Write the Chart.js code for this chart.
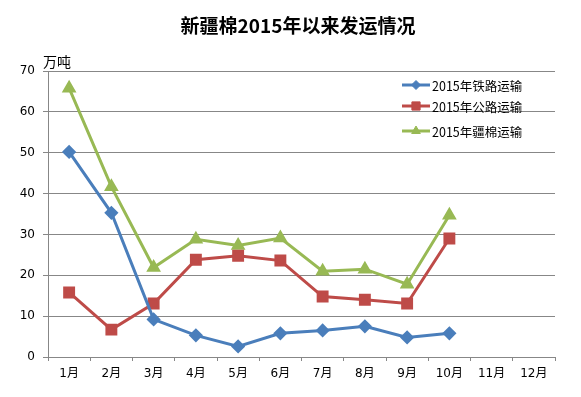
<!DOCTYPE html>
<html>
<head>
<meta charset="utf-8">
<script src="https://cdn.jsdelivr.net/npm/chart.js@4/dist/chart.umd.min.js"></script>
<style>
html,body{margin:0;padding:0;background:#fff;}
canvas{display:block;}
</style>
</head>
<body>
<canvas id="c" width="581" height="397"></canvas>
<script>
const chartTitle = '新疆棉2015年以来发运情况';
const yUnit = '万吨';
const months = ['1月','2月','3月','4月','5月','6月','7月','8月','9月','10月','11月','12月'];
const seriesNames = ['2015年铁路运输','2015年公路运输','2015年疆棉运输'];
const railway = [50.2, 35.3, 9.2, 5.3, 2.6, 5.8, 6.5, 7.5, 4.8, 5.8];
const road    = [15.8, 6.7, 13.1, 23.8, 24.8, 23.6, 14.8, 14.0, 13.1, 29.0];
const cotton  = [65.8, 41.7, 21.9, 28.8, 27.3, 29.1, 21.0, 21.5, 17.8, 34.7];
const yMin = 0, yMax = 70, yStep = 10;

const BLUE = '#4A7EBB', RED = '#BE4B48', GREEN = '#98B954', GRID = '#878787';
const cjk = "'Noto Sans CJK SC', 'DejaVu Sans', sans-serif";
const tickFont = "'DejaVu Sans', 'Noto Sans CJK SC', sans-serif";

const drawPt = (ctx, opts, x, y) => {
  if (Chart.helpers && Chart.helpers.drawPoint) Chart.helpers.drawPoint(ctx, opts, x, y);
};

const decorPlugin = {
  id: 'decor',
  afterDraw(chart) {
    const ctx = chart.ctx;
    const ca = chart.chartArea;
    ctx.save();
    ctx.fillStyle = '#000';
    ctx.font = "bold 19px " + cjk;
    ctx.textAlign = 'center';
    ctx.textBaseline = 'middle';
    ctx.fillText(chartTitle, 298, 26);
    ctx.font = "14px " + cjk;
    ctx.textAlign = 'left';
    ctx.fillText(yUnit, ca.left - 5, ca.top - 9);
    const rows = [85, 106, 131];
    const lx0 = 402, lx1 = 430;
    chart.data.datasets.forEach((ds, i) => {
      const y = rows[i];
      ctx.strokeStyle = ds.borderColor;
      ctx.lineWidth = ds.borderWidth;
      ctx.beginPath();
      ctx.moveTo(lx0, y);
      ctx.lineTo(lx1, y);
      ctx.stroke();
      ctx.fillStyle = ds.pointBackgroundColor;
      ctx.strokeStyle = ds.pointBorderColor;
      ctx.lineWidth = 1;
      drawPt(ctx, {pointStyle: ds.pointStyle, radius: ds.pointRadius - 0.5, borderWidth: 1, rotation: 0}, (lx0 + lx1) / 2, y);
      ctx.fillStyle = '#000';
      ctx.font = "12.5px " + cjk;
      ctx.textAlign = 'left';
      ctx.textBaseline = 'middle';
      ctx.fillText(ds.label, lx1 + 2, y + 1);
    });
    ctx.restore();
  }
};

new Chart(document.getElementById('c'), {
  type: 'line',
  data: {
    labels: months,
    datasets: [
      {label: seriesNames[0], data: railway, borderColor: BLUE, backgroundColor: BLUE,
       pointBackgroundColor: BLUE, pointBorderColor: BLUE, pointStyle: 'rectRot', pointRadius: 5, borderWidth: 3},
      {label: seriesNames[1], data: road, borderColor: RED, backgroundColor: RED,
       pointBackgroundColor: RED, pointBorderColor: RED, pointStyle: 'rect', pointRadius: 6.3, borderWidth: 3},
      {label: seriesNames[2], data: cotton, borderColor: GREEN, backgroundColor: GREEN,
       pointBackgroundColor: GREEN, pointBorderColor: GREEN, pointStyle: 'triangle', pointRadius: 5.5, borderWidth: 3}
    ]
  },
  options: {
    responsive: false,
    animation: false,
    devicePixelRatio: 1,
    layout: {padding: {left: 0, top: 71, right: 26, bottom: 0}},
    elements: {line: {tension: 0}, point: {borderWidth: 1, hoverRadius: 5}},
    plugins: {legend: {display: false}, title: {display: false}, tooltip: {enabled: false}},
    scales: {
      x: {
        offset: true,
        grid: {display: true, offset: true, drawOnChartArea: false, drawTicks: true, tickLength: 4, color: GRID},
        border: {display: true, color: GRID, width: 1},
        ticks: {color: '#000', font: {family: tickFont, size: 12}, padding: 6, maxRotation: 0, autoSkip: false},
        afterFit(s) { s.height = 40; }
      },
      y: {
        min: yMin, max: yMax,
        grid: {color: GRID, drawTicks: true, tickLength: 5},
        border: {display: true, color: GRID, width: 1},
        ticks: {stepSize: yStep, color: '#000', font: {family: tickFont, size: 12}, padding: 8},
        afterFit(s) { s.width = 48; }
      }
    }
  },
  plugins: [decorPlugin]
});
</script>
</body>
</html>
